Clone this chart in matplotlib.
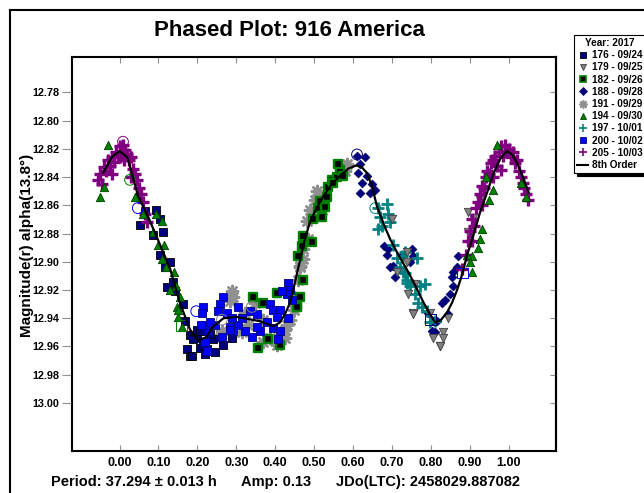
import matplotlib
matplotlib.use("Agg")
import matplotlib.pyplot as plt
from matplotlib.lines import Line2D

plt.rcParams['font.family'] = ['Liberation Sans', 'DejaVu Sans']
plt.rcParams['font.weight'] = 'bold'

# --- data (phase, magnitude) ---
s176_phase = [0.053, 0.065, 0.086, 0.095, 0.104, 0.104, 0.112, 0.117, 0.13, 0.122, 0.138, 0.142,
              0.163, 0.168, 0.181, 0.173, 0.18, 0.198, 0.207, 0.22, 0.20, 0.19, 0.215, 0.225,
              0.245, 0.24, 0.266, 0.207, 0.232, 0.29, 0.186]
s176_mag = [12.874, 12.864, 12.881, 12.863, 12.870, 12.895, 12.879, 12.904, 12.900, 12.918, 12.914, 12.921,
            12.930, 12.942, 12.952, 12.962, 12.967, 12.954, 12.961, 12.965, 12.948, 12.955, 12.959, 12.962,
            12.964, 12.955, 12.959, 12.949, 12.951, 12.954, 12.967]

s179_phase = [0.739, 0.759, 0.754, 0.798, 0.806, 0.831, 0.824, 0.831, 0.844, 0.895, 0.908, 0.895,
              0.90, 0.927, 0.70, 0.739, 0.742, 0.713, 0.754, 0.824]
s179_mag = [12.900, 12.916, 12.936, 12.936, 12.954, 12.950, 12.960, 12.954, 12.940, 12.865, 12.869, 12.879,
            12.881, 12.856, 12.870, 12.893, 12.923, 12.907, 12.937, 12.960]

s182_phase = [0.344, 0.356, 0.381, 0.412, 0.369, 0.404, 0.456, 0.464, 0.472, 0.456, 0.459, 0.468,
              0.472, 0.494, 0.498, 0.52, 0.51, 0.515, 0.533, 0.536, 0.546, 0.558, 0.566, 0.575,
              0.562, 0.549, 0.528]
s182_mag = [12.925, 12.961, 12.955, 12.959, 12.929, 12.922, 12.932, 12.925, 12.913, 12.932, 12.896, 12.889,
            12.882, 12.886, 12.870, 12.868, 12.862, 12.857, 12.854, 12.847, 12.842, 12.840, 12.835, 12.839,
            12.831, 12.844, 12.861]

s188_phase = [0.61, 0.63, 0.618, 0.613, 0.636, 0.623, 0.648, 0.618, 0.644, 0.656, 0.678, 0.69,
              0.688, 0.703, 0.695, 0.708, 0.726, 0.751, 0.754, 0.746, 0.793, 0.806, 0.81, 0.829,
              0.836, 0.85, 0.857, 0.855, 0.857, 0.867, 0.87, 0.844, 0.816, 0.803]
s188_mag = [12.825, 12.826, 12.831, 12.837, 12.839, 12.844, 12.845, 12.851, 12.851, 12.849, 12.889, 12.891,
            12.895, 12.903, 12.904, 12.911, 12.895, 12.891, 12.896, 12.900, 12.936, 12.942, 12.950, 12.929,
            12.927, 12.923, 12.917, 12.911, 12.907, 12.904, 12.896, 12.937, 12.942, 12.949]

s191_phase = [0.288, 0.292, 0.284, 0.263, 0.258, 0.314, 0.33, 0.348, 0.322, 0.369, 0.387, 0.369,
              0.404, 0.425, 0.43, 0.425, 0.447, 0.464, 0.472, 0.438, 0.459, 0.464, 0.472, 0.485,
              0.482, 0.49, 0.502, 0.508, 0.52, 0.584, 0.58, 0.447]
s191_mag = [12.921, 12.925, 12.928, 12.949, 12.954, 12.950, 12.945, 12.929, 12.936, 12.941, 12.954, 12.957,
            12.959, 12.954, 12.945, 12.948, 12.934, 12.904, 12.898, 12.941, 12.913, 12.903, 12.891, 12.884,
            12.871, 12.863, 12.856, 12.850, 12.863, 12.831, 12.836, 12.925]

s194_phase = [-0.05, -0.03, -0.04, 0.04, 0.06, 0.095, 0.11, 0.085, 0.10, 0.115, 0.11, 0.12,
              0.14, 0.13, 0.145, 0.155, 0.148, 0.15, 0.16, 0.15,
              0.97, 0.94, 0.96, 0.95, 0.93, 0.925, 0.92, 0.905, 0.90, 0.905, 0.893, 1.043, 1.03]
s194_mag = [12.854, 12.817, 12.847, 12.854, 12.866, 12.866, 12.871, 12.879, 12.888, 12.888, 12.898, 12.904,
            12.907, 12.920, 12.917, 12.925, 12.932, 12.939, 12.946, 12.934,
            12.817, 12.840, 12.849, 12.856, 12.877, 12.884, 12.890, 12.896, 12.900, 12.907, 12.895, 12.854, 12.844]

s197_phase = [0.665, 0.688, 0.67, 0.69, 0.675, 0.665, 0.695, 0.703, 0.713, 0.726, 0.721, 0.733,
              0.739, 0.733, 0.729, 0.739, 0.746, 0.772, 0.785, 0.759, 0.767, 0.777, 0.79, 0.798,
              0.81, 0.764]
s197_mag = [12.862, 12.859, 12.868, 12.866, 12.875, 12.877, 12.872, 12.888, 12.897, 12.896, 12.904, 12.908,
            12.915, 12.893, 12.907, 12.913, 12.917, 12.917, 12.916, 12.923, 12.929, 12.932, 12.935, 12.943,
            12.942, 12.897]

s200_phase = [0.215, 0.212, 0.267, 0.258, 0.253, 0.276, 0.305, 0.335, 0.353, 0.387, 0.395, 0.412,
              0.433, 0.438, 0.43, 0.417, 0.443, 0.404, 0.433, 0.378, 0.395, 0.412, 0.408, 0.361,
              0.34, 0.322, 0.305, 0.284, 0.292, 0.353, 0.314, 0.289, 0.245, 0.228, 0.22, 0.263,
              0.284, 0.232, 0.21, 0.22, 0.225]
s200_mag = [12.932, 12.936, 12.925, 12.930, 12.935, 12.936, 12.932, 12.935, 12.937, 12.930, 12.934, 12.934,
            12.915, 12.920, 12.923, 12.921, 12.927, 12.939, 12.940, 12.943, 12.947, 12.949, 12.955, 12.949,
            12.953, 12.949, 12.945, 12.946, 12.949, 12.946, 12.940, 12.940, 12.945, 12.949, 12.945, 12.953,
            12.948, 12.943, 12.945, 12.957, 12.963]

s205_phase = [-0.055, -0.05, -0.045, -0.04, -0.035, -0.03, -0.025, -0.02, -0.015, -0.01, -0.005, 0.0,
              0.005, 0.01, 0.015, 0.02, 0.025, 0.03, 0.035, 0.04, 0.045, 0.05, 0.055, 0.06,
              0.065, 0.07, 0.0, 0.012, -0.02, 0.03,
              0.88, 0.89, 0.895, 0.90, 0.905, 0.91, 0.915, 0.92, 0.925, 0.93, 0.935, 0.94,
              0.945, 0.95, 0.955, 0.96, 0.965, 0.97, 0.975, 0.98, 0.985, 0.99, 0.995, 1.0,
              1.005, 1.01, 1.015, 1.02, 1.025, 1.03, 1.035, 1.04, 1.045, 1.05, 0.96, 0.98,
              0.93, 0.905]
s205_mag = [12.842, 12.838, 12.845, 12.833, 12.836, 12.828, 12.832, 12.826, 12.829, 12.822, 12.825, 12.818,
            12.822, 12.817, 12.821, 12.824, 12.828, 12.826, 12.834, 12.838, 12.842, 12.848, 12.852, 12.858,
            12.866, 12.872, 12.826, 12.828, 12.838, 12.840,
            12.905, 12.895, 12.885, 12.878, 12.870, 12.875, 12.862, 12.858, 12.852, 12.846, 12.848, 12.840,
            12.836, 12.838, 12.830, 12.828, 12.825, 12.832, 12.822, 12.818, 12.825, 12.817, 12.822, 12.820,
            12.826, 12.822, 12.830, 12.828, 12.836, 12.840, 12.844, 12.848, 12.852, 12.856, 12.840, 12.835,
            12.860, 12.885]

# 8th order fourier fit
fit_phase = [-0.042, -0.02, 0.0, 0.02, 0.048, 0.07, 0.095, 0.13, 0.155, 0.181, 0.202, 0.222,
             0.241, 0.267, 0.30, 0.327, 0.36, 0.395, 0.412, 0.425, 0.438, 0.451, 0.464, 0.476,
             0.489, 0.506, 0.524, 0.545, 0.567, 0.588, 0.608, 0.622, 0.635, 0.648, 0.661, 0.678,
             0.695, 0.716, 0.738, 0.76, 0.781, 0.797, 0.811, 0.826, 0.841, 0.854, 0.867, 0.88,
             0.892, 0.909, 0.926, 0.944, 0.961, 0.978, 0.995, 1.008, 1.021, 1.036, 1.051]
fit_mag = [12.837, 12.826, 12.8216, 12.826, 12.8535, 12.866, 12.882, 12.905, 12.929, 12.948, 12.9556, 12.9535,
           12.9457, 12.940, 12.939, 12.9404, 12.942, 12.9457, 12.943, 12.937, 12.929, 12.914, 12.8985, 12.884,
           12.872, 12.862, 12.8535, 12.845, 12.839, 12.834, 12.8318, 12.833, 12.837, 12.846, 12.8606, 12.873,
           12.884, 12.895, 12.9055, 12.917, 12.929, 12.937, 12.943, 12.941, 12.936, 12.929, 12.920, 12.909,
           12.896, 12.881, 12.865, 12.851, 12.837, 12.827, 12.8216, 12.824, 12.830, 12.840, 12.851]

# open markers (first point of each session)
open_phase = [0.009, 0.027, 0.047, 0.197, 0.34, 0.263, 0.61, 0.657]
open_mag = [12.815, 12.842, 12.862, 12.935, 12.932, 12.941, 12.824, 12.862]
open_color = ['#800080', '#008000', '#0000FF', '#0000FF', '#808080', '#808080', '#000080', '#008080']
open_sq_phase = [0.16, 0.88, 0.798]
open_sq_mag = [12.945, 12.908, 12.941]
open_sq_color = ['#008000', '#0000FF', '#000080']

labels = ['176 - 09/24', '179 - 09/25', '182 - 09/26', '188 - 09/28', '191 - 09/29',
          '194 - 09/30', '197 - 10/01', '200 - 10/02', '205 - 10/03']

styles = [
    dict(marker='s', s=30, c='#000080', edgecolors='black', linewidths=0.6),
    dict(marker='v', s=36, c='#808080', edgecolors='#404040', linewidths=0.6),
    dict(marker='s', s=28, c='black', edgecolors='#008000', linewidths=1.7),
    dict(marker='D', s=20, c='#000080', edgecolors='#000060', linewidths=0.5),
    dict(marker=(8, 2, 0), s=65, c='#909090', linewidths=1.8),
    dict(marker='^', s=36, c='#008000', edgecolors='#004000', linewidths=0.6),
    dict(marker='+', s=70, c='#008080', linewidths=2.0),
    dict(marker='s', s=30, c='#0000FF', edgecolors='#000080', linewidths=0.6),
    dict(marker='+', s=70, c='#800080', linewidths=2.4),
]
series = [(s176_phase, s176_mag), (s179_phase, s179_mag), (s182_phase, s182_mag),
          (s188_phase, s188_mag), (s191_phase, s191_mag), (s194_phase, s194_mag),
          (s197_phase, s197_mag), (s200_phase, s200_mag), (s205_phase, s205_mag)]

fig = plt.figure(figsize=(6.44, 4.93), dpi=100)
ax = fig.add_axes([72 / 644, 1 - 451 / 493, (556 - 72) / 644, (451 - 57) / 493])

draw_order = [4, 2, 0, 7, 3, 6, 1, 8, 5]
for i in draw_order:
    ph, mg = series[i]
    ax.scatter(ph, mg, zorder=2, **styles[i])

ax.scatter(open_phase, open_mag, marker='o', s=60, facecolors='none', edgecolors=open_color,
           linewidths=0.7, zorder=3)
ax.scatter(open_sq_phase, open_sq_mag, marker='s', s=60, facecolors='none', edgecolors=open_sq_color,
           linewidths=0.7, zorder=3)
ax.plot(fit_phase, fit_mag, color='black', lw=1.6, zorder=4)

ax.set_xlim(-0.122, 1.121)
ax.set_ylim(13.034, 12.755)
xt = [0.0, 0.1, 0.2, 0.3, 0.4, 0.5, 0.6, 0.7, 0.8, 0.9, 1.0]
yt = [12.78, 12.80, 12.82, 12.84, 12.86, 12.88, 12.90, 12.92, 12.94, 12.96, 12.98, 13.00]
ax.set_xticks(xt)
ax.set_xticklabels(['%.2f' % v for v in xt], fontsize=9, fontweight='bold')
ax.set_yticks(yt)
ax.set_yticklabels(['%.2f' % v for v in yt], fontsize=7.8, fontweight='bold')
ax.tick_params(axis='x', direction='in', length=4, color='#909090', top=True, pad=4)
ax.tick_params(axis='y', direction='out', length=7, color='#909090', pad=2)
# right side ticks point inward
ax2 = ax.secondary_yaxis('right')
ax2.set_yticks(yt)
ax2.set_yticklabels([])
ax2.tick_params(direction='in', length=4, color='#909090')
for sp in ax.spines.values():
    sp.set_linewidth(1.5)
ax2.spines['right'].set_linewidth(1.5)

ax.set_ylabel('Magnitude(r) alpha(13.8°)', fontsize=11, fontweight='bold')
ax.yaxis.set_label_coords(-0.078, 0.523)

fig.text(289 / 644, 1 - 31 / 493, 'Phased Plot: 916 America', ha='center', va='center',
         fontsize=16, fontweight='bold')
fig.text(51 / 644, 1 - 482 / 493, 'Period: 37.294 ± 0.013 h', ha='left', va='center',
         fontsize=10.5, fontweight='bold')
fig.text(241 / 644, 1 - 482 / 493, 'Amp: 0.13', ha='left', va='center',
         fontsize=10.5, fontweight='bold')
fig.text(336 / 644, 1 - 482 / 493, 'JDo(LTC): 2458029.887082', ha='left', va='center',
         fontsize=10.5, fontweight='bold')

# outer frame (left and top edges)
fig.add_artist(Line2D([10 / 644, 10 / 644], [0, 1 - 10 / 493], color='black', lw=1.5,
                      transform=fig.transFigure))
fig.add_artist(Line2D([10 / 644, 1], [1 - 10 / 493, 1 - 10 / 493], color='black', lw=1.5,
                      transform=fig.transFigure))

# legend
handles = []
leg_sizes = [4.5, 5, 4.5, 4, 6, 5, 6, 4.5, 6]
for st, lab, ms in zip(styles, labels, leg_sizes):
    mfc = st['c']
    mec = st.get('edgecolors', st['c'])
    handles.append(Line2D([], [], ls='none', marker=st['marker'], markersize=ms,
                          markerfacecolor=mfc, markeredgecolor=mec,
                          markeredgewidth=min(st['linewidths'], 1.2), label=lab))
handles.append(Line2D([], [], color='black', lw=1.5, label='8th Order'))
leg = fig.legend(handles=handles, loc='upper left', bbox_to_anchor=(574 / 644, 1 - 35 / 493),
                 title='Year: 2017', fontsize=7.2, title_fontsize=7.2, frameon=True,
                 fancybox=False, edgecolor='black', framealpha=1,
                 shadow={'color': 'black', 'alpha': 1}, handlelength=1.1, handletextpad=0.4,
                 labelspacing=0.22, borderpad=0.3, borderaxespad=0)
leg.get_title().set_fontweight('bold')
leg.get_frame().set_linewidth(0.8)
for t in leg.get_texts():
    t.set_fontweight('bold')

fig.savefig('out.png', dpi=100)
